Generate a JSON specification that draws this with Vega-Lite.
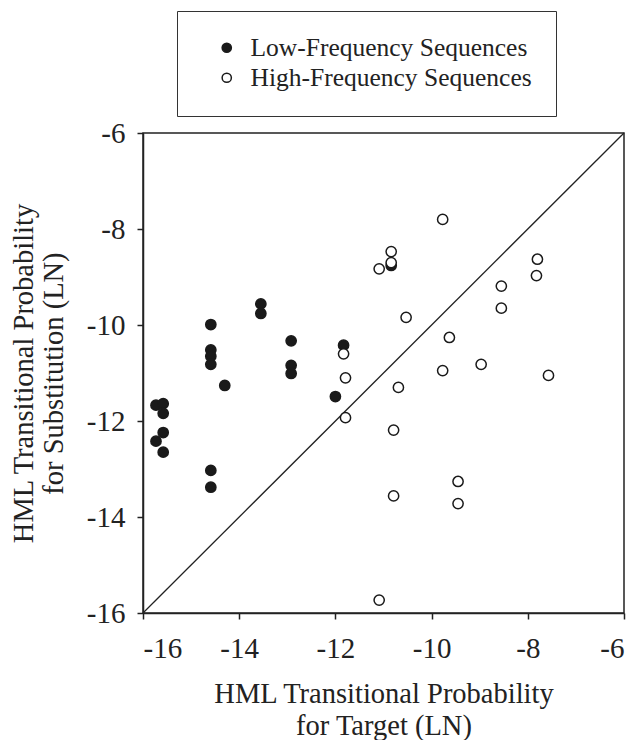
{
  "$schema": "https://vega.github.io/schema/vega-lite/v6.json",
  "width": 481,
  "height": 480,
  "autosize": {"type": "none"},
  "padding": {"left": 143, "top": 133, "right": 11, "bottom": 127},
  "background": "white",
  "config": {
    "font": "Liberation Serif",
    "view": {"stroke": "#222", "strokeWidth": 1.5},
    "axis": {
      "domainColor": "#222",
      "domainWidth": 1.5,
      "tickColor": "#222",
      "tickWidth": 1.5,
      "tickSize": 6,
      "grid": false,
      "labelFont": "Liberation Serif",
      "labelFontSize": 29,
      "labelColor": "#222",
      "labelExpr": "'' + datum.value",
      "titleFont": "Liberation Serif",
      "titleFontSize": 28.5,
      "titleFontWeight": "normal",
      "titleColor": "#222"
    }
  },
  "layer": [
    {
      "data": {"values": [{"target": -16, "substitution": -16}, {"target": -6, "substitution": -6}]},
      "mark": {"type": "line", "color": "#222", "strokeWidth": 1.3},
      "encoding": {
        "x": {"field": "target", "type": "quantitative", "scale": {"domain": [-16, -6], "nice": false, "zero": false}},
        "y": {"field": "substitution", "type": "quantitative", "scale": {"domain": [-16, -6], "nice": false, "zero": false}}
      }
    },
    {
      "data": {"values": [
        {"target": -13.55, "substitution": -9.56, "group": "Low-Frequency Sequences"},
        {"target": -13.55, "substitution": -9.76, "group": "Low-Frequency Sequences"},
        {"target": -14.59, "substitution": -9.99, "group": "Low-Frequency Sequences"},
        {"target": -14.59, "substitution": -10.52, "group": "Low-Frequency Sequences"},
        {"target": -14.59, "substitution": -10.65, "group": "Low-Frequency Sequences"},
        {"target": -14.59, "substitution": -10.82, "group": "Low-Frequency Sequences"},
        {"target": -14.3, "substitution": -11.26, "group": "Low-Frequency Sequences"},
        {"target": -12.92, "substitution": -10.33, "group": "Low-Frequency Sequences"},
        {"target": -12.92, "substitution": -10.84, "group": "Low-Frequency Sequences"},
        {"target": -12.92, "substitution": -11.01, "group": "Low-Frequency Sequences"},
        {"target": -11.83, "substitution": -10.42, "group": "Low-Frequency Sequences"},
        {"target": -12.0, "substitution": -11.49, "group": "Low-Frequency Sequences"},
        {"target": -15.73, "substitution": -11.67, "group": "Low-Frequency Sequences"},
        {"target": -15.58, "substitution": -11.64, "group": "Low-Frequency Sequences"},
        {"target": -15.58, "substitution": -11.84, "group": "Low-Frequency Sequences"},
        {"target": -15.58, "substitution": -12.24, "group": "Low-Frequency Sequences"},
        {"target": -15.73, "substitution": -12.42, "group": "Low-Frequency Sequences"},
        {"target": -15.58, "substitution": -12.65, "group": "Low-Frequency Sequences"},
        {"target": -14.59, "substitution": -13.03, "group": "Low-Frequency Sequences"},
        {"target": -14.59, "substitution": -13.38, "group": "Low-Frequency Sequences"},
        {"target": -10.84, "substitution": -8.76, "group": "Low-Frequency Sequences"},
        {"target": -11.83, "substitution": -10.6, "group": "High-Frequency Sequences"},
        {"target": -11.79, "substitution": -11.1, "group": "High-Frequency Sequences"},
        {"target": -11.79, "substitution": -11.93, "group": "High-Frequency Sequences"},
        {"target": -9.77, "substitution": -7.8, "group": "High-Frequency Sequences"},
        {"target": -10.84, "substitution": -8.47, "group": "High-Frequency Sequences"},
        {"target": -10.84, "substitution": -8.7, "group": "High-Frequency Sequences"},
        {"target": -11.09, "substitution": -8.83, "group": "High-Frequency Sequences"},
        {"target": -10.53, "substitution": -9.84, "group": "High-Frequency Sequences"},
        {"target": -9.63, "substitution": -10.26, "group": "High-Frequency Sequences"},
        {"target": -9.77, "substitution": -10.95, "group": "High-Frequency Sequences"},
        {"target": -8.97, "substitution": -10.82, "group": "High-Frequency Sequences"},
        {"target": -10.69, "substitution": -11.3, "group": "High-Frequency Sequences"},
        {"target": -7.57, "substitution": -11.05, "group": "High-Frequency Sequences"},
        {"target": -8.55, "substitution": -9.19, "group": "High-Frequency Sequences"},
        {"target": -8.55, "substitution": -9.65, "group": "High-Frequency Sequences"},
        {"target": -7.8, "substitution": -8.63, "group": "High-Frequency Sequences"},
        {"target": -7.82, "substitution": -8.97, "group": "High-Frequency Sequences"},
        {"target": -10.79, "substitution": -12.19, "group": "High-Frequency Sequences"},
        {"target": -10.79, "substitution": -13.56, "group": "High-Frequency Sequences"},
        {"target": -9.45, "substitution": -13.26, "group": "High-Frequency Sequences"},
        {"target": -9.45, "substitution": -13.72, "group": "High-Frequency Sequences"},
        {"target": -11.09, "substitution": -15.73, "group": "High-Frequency Sequences"}
      ]},
      "mark": {"type": "point", "filled": true, "shape": "circle", "size": 105, "stroke": "#1a1a1a", "strokeWidth": 1.5, "opacity": 1},
      "encoding": {
        "x": {
          "field": "target", "type": "quantitative",
          "scale": {"domain": [-16, -6], "nice": false, "zero": false},
          "axis": {"values": [-16, -14, -12, -10, -8, -6], "labelPadding": 15, "titlePadding": 16, "titleLineHeight": 32,
                   "title": ["HML Transitional Probability", "for Target (LN)"]}
        },
        "y": {
          "field": "substitution", "type": "quantitative",
          "scale": {"domain": [-16, -6], "nice": false, "zero": false},
          "axis": {"values": [-16, -14, -12, -10, -8, -6], "labelPadding": 12, "titlePadding": 18, "titleLineHeight": 30,
                   "title": ["HML Transitional Probability", "for Substitution (LN)"]}
        },
        "fill": {
          "field": "group", "type": "nominal",
          "scale": {"domain": ["Low-Frequency Sequences", "High-Frequency Sequences"], "range": ["#1a1a1a", "white"]},
          "legend": {
            "title": null,
            "orient": "none",
            "legendX": 34,
            "legendY": -122,
            "padding": 24,
            "strokeColor": "#333",
            "fillColor": "white",
            "symbolType": "circle",
            "symbolSize": 85,
            "symbolStrokeColor": "#1a1a1a",
            "symbolStrokeWidth": 1.5,
            "symbolOffset": 13,
            "labelOffset": 11,
            "labelFontSize": 25.5,
            "labelFont": "Liberation Serif",
            "labelColor": "#222",
            "labelLimit": 0,
            "rowPadding": 3
          }
        }
      }
    }
  ]
}
